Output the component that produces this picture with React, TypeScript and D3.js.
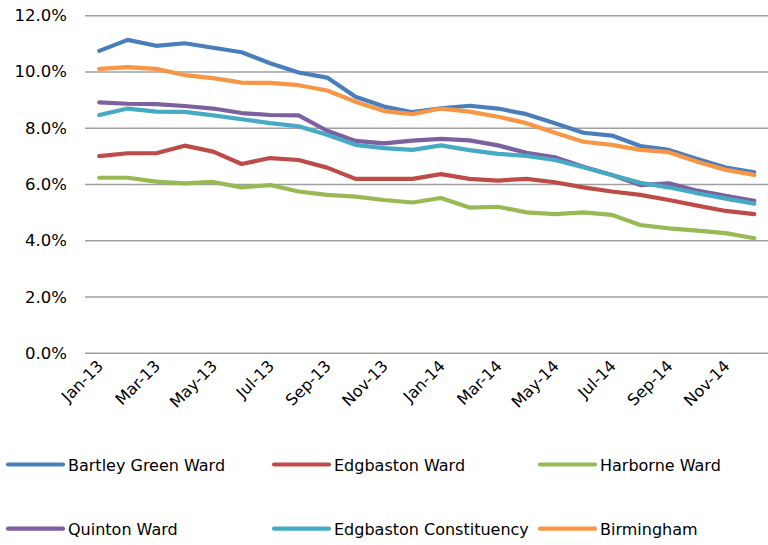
import React from "react";
import * as d3 from "d3";

const months = ["Jan-13","Feb-13","Mar-13","Apr-13","May-13","Jun-13","Jul-13","Aug-13","Sep-13","Oct-13","Nov-13","Dec-13","Jan-14","Feb-14","Mar-14","Apr-14","May-14","Jun-14","Jul-14","Aug-14","Sep-14","Oct-14","Nov-14","Dec-14"];

const bartleyGreen = [10.75,11.14,10.93,11.02,10.86,10.70,10.31,9.98,9.80,9.12,8.77,8.57,8.71,8.80,8.70,8.50,8.18,7.84,7.74,7.37,7.23,6.91,6.60,6.43];
const edgbastonWard = [7.01,7.11,7.11,7.38,7.17,6.73,6.94,6.87,6.60,6.20,6.20,6.20,6.37,6.20,6.14,6.20,6.08,5.90,5.75,5.63,5.45,5.25,5.06,4.95];
const harborne = [6.24,6.24,6.10,6.04,6.09,5.90,5.98,5.75,5.63,5.57,5.45,5.36,5.52,5.18,5.21,5.01,4.95,5.01,4.92,4.56,4.44,4.36,4.27,4.09];
const quinton = [8.92,8.87,8.86,8.79,8.70,8.54,8.47,8.46,7.91,7.55,7.46,7.56,7.62,7.57,7.39,7.13,6.97,6.63,6.34,5.98,6.04,5.78,5.60,5.42];
const edgbastonConst = [8.47,8.70,8.59,8.58,8.46,8.32,8.18,8.07,7.77,7.41,7.29,7.23,7.39,7.22,7.09,7.02,6.87,6.61,6.34,6.06,5.90,5.69,5.50,5.32];
const birmingham = [10.11,10.17,10.11,9.89,9.78,9.62,9.61,9.53,9.34,8.94,8.61,8.50,8.70,8.59,8.41,8.18,7.84,7.52,7.41,7.23,7.15,6.81,6.52,6.34];

const yTicks = [0, 2, 4, 6, 8, 10, 12];

const seriesNames = ["Bartley Green Ward","Edgbaston Ward","Harborne Ward","Quinton Ward","Edgbaston Constituency","Birmingham"];
const seriesValues = [bartleyGreen, edgbastonWard, harborne, quinton, edgbastonConst, birmingham];
const seriesColors = ["#4A7EBB","#BE4B48","#98B954","#7D60A0","#46AAC5","#F79646"];

export default function App() {
  const W = 768, H = 545;
  const left = 85, right = 768.5, top = 15.7, bottom = 353.3;
  const x = d3.scaleBand<string>().domain(months).range([left, right]);
  const y = d3.scaleLinear().domain([0, 12]).range([bottom, top]);
  const cx = (m: string) => (x(m) as number) + x.bandwidth() / 2;
  const line = d3.line<number>().x((_, i) => cx(months[i])).y((v) => y(v));
  const font = "'DejaVu Sans', Verdana, sans-serif";

  const legendCols = [8, 274, 540];
  const legendRows = [464.5, 528.7];

  return (
    <svg width={W} height={H} style={{ position: "absolute", left: 0, top: 0, background: "#fff" }} fontFamily={font}>
      <rect width={W} height={H} fill="#fff" />
      {yTicks.map((t) => (
        <g key={t}>
          <line x1={left} x2={right} y1={y(t)} y2={y(t)} stroke="#a0a0a0" strokeWidth={1.6} />
          <text x={67} y={y(t)} textAnchor="end" dominantBaseline="central" fontSize={16.5} fill="#000">
            {t.toFixed(1) + "%"}
          </text>
        </g>
      ))}
      {months.map((m, i) =>
        i % 2 === 0 ? (
          <text key={m} transform={`translate(${cx(m) + 5},${367}) rotate(-45)`} textAnchor="end" fontSize={16} fill="#000">
            {m}
          </text>
        ) : null
      )}
      {seriesValues.map((vals, si) => (
        <path key={si} d={line(vals) as string} fill="none" stroke={seriesColors[si]} strokeWidth={4.2} strokeLinejoin="round" strokeLinecap="round" />
      ))}
      {seriesNames.map((n, si) => {
        const lx = legendCols[si % 3];
        const ly = legendRows[Math.floor(si / 3)];
        return (
          <g key={n}>
            <line x1={lx} x2={lx + 55} y1={ly} y2={ly} stroke={seriesColors[si]} strokeWidth={4.2} strokeLinecap="round" />
            <text x={lx + 60} y={ly + 1} dominantBaseline="central" fontSize={16} fill="#000">{n}</text>
          </g>
        );
      })}
    </svg>
  );
}
